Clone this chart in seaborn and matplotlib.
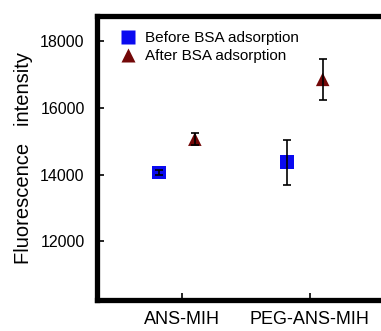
import matplotlib
matplotlib.use("Agg")
import matplotlib.pyplot as plt
import seaborn as sns
import numpy as np
import pandas as pd

# values
samples = ["ANS-MIH", "PEG-ANS-MIH"]
before_mean = [14060, 14370]
before_err = [70, 680]
after_mean = [15060, 16850]
after_err = [180, 620]

series = ["Before BSA adsorption", "After BSA adsorption"]
offsets = {"Before BSA adsorption": -0.18, "After BSA adsorption": 0.1}
colors = {"Before BSA adsorption": "#0a0af0", "After BSA adsorption": "#730808"}
markers = {"Before BSA adsorption": "s", "After BSA adsorption": "^"}

rows = []
for i, s in enumerate(samples):
    rows.append({"sample": s, "series": series[0], "value": before_mean[i], "err": before_err[i]})
    rows.append({"sample": s, "series": series[1], "value": after_mean[i], "err": after_err[i]})
df = pd.DataFrame(rows)
df["pos"] = df["sample"].map({s: i for i, s in enumerate(samples)}) + df["series"].map(offsets)

sns.set_style("ticks", {"axes.edgecolor": "black", "xtick.color": "black",
                        "ytick.color": "black", "text.color": "black",
                        "axes.labelcolor": "black"})
plt.rcParams["font.family"] = ["Liberation Sans", "DejaVu Sans"]

fig = plt.figure(figsize=(3.81, 3.31), dpi=100)
ax = fig.add_axes([0.255, 0.094, 0.80, 0.858])

sns.scatterplot(data=df, x="pos", y="value", hue="series", style="series",
                palette=colors, markers=markers, s=95, edgecolor="none",
                ax=ax, zorder=2)
ax.errorbar(df["pos"], df["value"], yerr=df["err"], fmt="none", ecolor="black",
            elinewidth=1.2, capsize=3, capthick=1.2, zorder=3)

ax.set_xlim(-0.664, 1.72)
ax.set_ylim(10250, 18750)
ax.set_xticks(range(len(samples)))
ax.set_xticklabels(samples, fontsize=13)
ax.set_yticks([12000, 14000, 16000, 18000])
ax.tick_params(axis="y", labelsize=11.5, direction="in", length=5, width=1.2, pad=9)
ax.tick_params(axis="x", direction="in", length=5, width=1.2, pad=8)
ax.set_xlabel("")
ax.set_ylabel("Fluorescence   intensity", fontsize=14.5, labelpad=5)

for side in ["left", "bottom", "top"]:
    ax.spines[side].set_linewidth(3.8)
ax.spines["right"].set_visible(False)

leg = ax.legend(loc="upper left", frameon=False, fontsize=11, handletextpad=0.15,
                labelspacing=0.25, borderaxespad=0.6, markerscale=1.0)

fig.savefig("out.png", dpi=100)
